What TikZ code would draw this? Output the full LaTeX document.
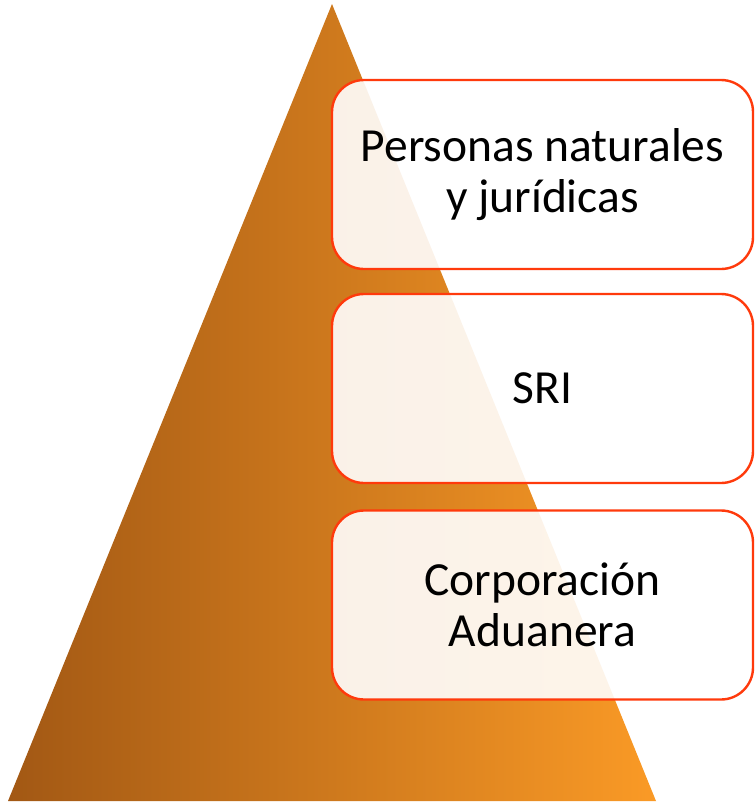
\documentclass[tikz,border=0pt]{standalone}
\usepackage{fontspec}
\setmainfont{Carlito}
\begin{document}
\begin{tikzpicture}[x=1pt,y=-1pt]
\definecolor{leftColor}{RGB}{162,88,20}
\definecolor{midColor}{RGB}{226,126,30}
\definecolor{rightColor}{RGB}{250,154,38}
\definecolor{drawColor}{RGB}{255,58,12}
\definecolor{fillColor}{RGB}{255,255,255}
\tikzset{level/.style={draw=drawColor,line width=2.4pt,fill=fillColor,fill opacity=0.9,
  text opacity=1,rounded corners=32pt,minimum width=421pt,minimum height=189pt,
  inner sep=0pt,align=center,font=\fontsize{47.5}{51}\selectfont}}
\path[use as bounding box] (0,0) rectangle (755,803);

\shade[left color=leftColor,middle color=midColor,right color=rightColor] (8,801) -- (332,4) -- (656,801) -- cycle;

\node[level] (persons) at (542.5,174.5) {Personas naturales\\y jurídicas};
\node[level] (sri) at (542.5,388.5) {SRI};
\node[level] (customs) at (542.5,605) {Corporación\\Aduanera};
\end{tikzpicture}
\end{document}
